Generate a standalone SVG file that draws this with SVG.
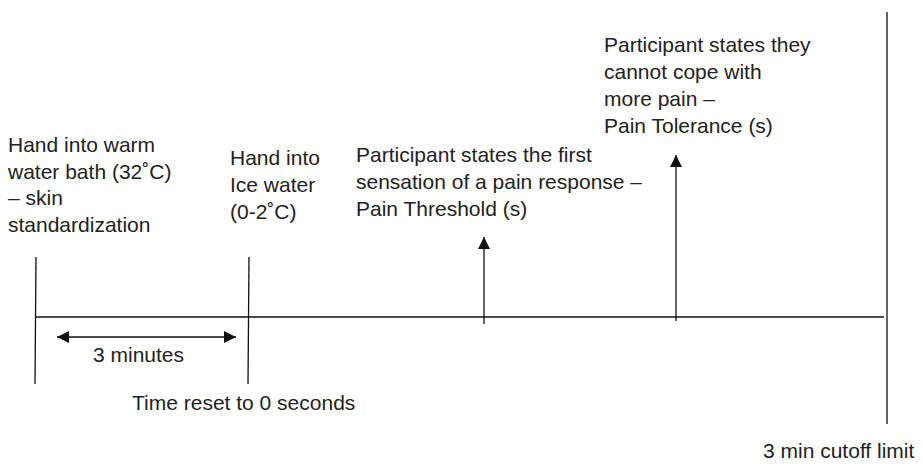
<svg xmlns="http://www.w3.org/2000/svg" width="923" height="464" viewBox="0 0 923 464">
<style>
text{font-family:"Liberation Sans",Arial,sans-serif;font-size:21px;fill:#222}
.ln{stroke:#111;stroke-width:1.3;fill:none}
</style>
<defs>
<marker id="ah" viewBox="0 0 12 12" refX="12" refY="6" markerWidth="12" markerHeight="12" markerUnits="userSpaceOnUse" orient="auto-start-reverse">
<path d="M0,0 L12,6 L0,12 z" fill="#111"/>
</marker>
</defs>
<rect width="923" height="464" fill="#fff"/>
<g id="connectors">
<line class="ln" x1="36" y1="317" x2="884" y2="317"/>
<line class="ln" x1="36" y1="257" x2="35" y2="384"/>
<line class="ln" x1="249" y1="257" x2="248" y2="384"/>
<line class="ln" x1="887" y1="12" x2="887" y2="424"/>
<line class="ln" x1="57" y1="337" x2="236" y2="337" marker-start="url(#ah)" marker-end="url(#ah)"/>
<line class="ln" x1="484" y1="324" x2="484" y2="237" marker-end="url(#ah)"/>
<line class="ln" x1="676" y1="321" x2="676" y2="155" marker-end="url(#ah)"/>
</g>
<g id="warm">
<text x="8" y="152">Hand into warm</text>
<text x="8" y="178.5">water bath (32˚C)</text>
<text x="8" y="205">– skin</text>
<text x="8" y="231.5">standardization</text>
</g>
<g id="ice">
<text x="230" y="165">Hand into</text>
<text x="230" y="192">Ice water</text>
<text x="230" y="219">(0-2˚C)</text>
</g>
<g id="threshold">
<text x="356" y="162">Participant states the first</text>
<text x="356" y="189">sensation of a pain response –</text>
<text x="356" y="215.5">Pain Threshold (s)</text>
</g>
<g id="tolerance">
<text x="604" y="52">Participant states they</text>
<text x="604" y="79">cannot cope with</text>
<text x="604" y="106">more pain –</text>
<text x="604" y="133">Pain Tolerance (s)</text>
</g>
<g id="minutes"><text x="93" y="362">3 minutes</text></g>
<g id="reset"><text x="132" y="410">Time reset to 0 seconds</text></g>
<g id="cutoff"><text x="763" y="458">3 min cutoff limit</text></g>
</svg>
